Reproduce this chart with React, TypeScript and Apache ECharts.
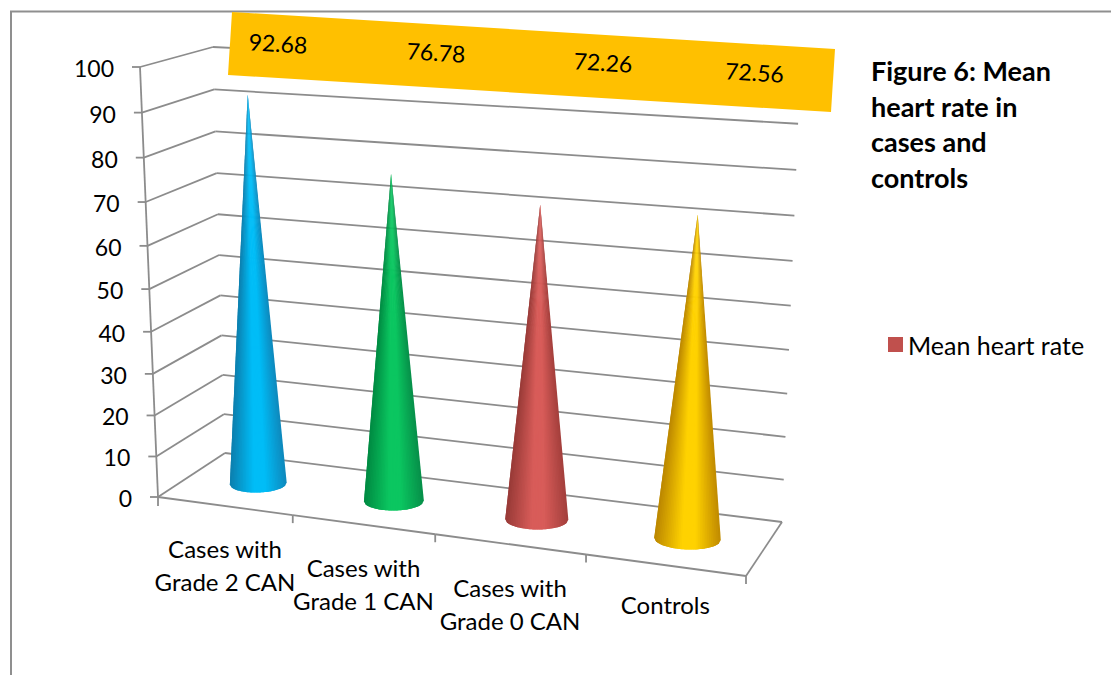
import React, { useEffect, useRef } from "react";
import * as echarts from "echarts";

// Chart values
const categories = ["Cases with\nGrade 2 CAN", "Cases with\nGrade 1 CAN", "Cases with\nGrade 0 CAN", "Controls"];
const meanHeartRate = [92.68, 76.78, 72.26, 72.56];
const valueTicks = [0, 10, 20, 30, 40, 50, 60, 70, 80, 90, 100];
const seriesName = "Mean heart rate";
const chartTitle = "Figure 6: Mean\nheart rate in\ncases and\ncontrols";

// Cone shading: left edge, highlight, right edge
const coneShades = [
  ["#0f88bc", "#00bdf7", "#0c7fae"],
  ["#078f49", "#0bc660", "#008a42"],
  ["#a33f3c", "#d85c59", "#983a37"],
  ["#c08a00", "#ffd200", "#bb8700"],
];

const FONT = "Lato, Carlito, sans-serif";
const LINE = "#8c8c8c";
const GRID = { left: 100, top: 100, width: 400, height: 400 };

type Pt = [number, number];

// Projective map of the unit square on a quad: (0,0), (1,0), (1,1), (0,1)
function quadMap(p0: Pt, p1: Pt, p2: Pt, p3: Pt) {
  const dx1 = p1[0] - p2[0], dx2 = p3[0] - p2[0], sx = p0[0] - p1[0] + p2[0] - p3[0];
  const dy1 = p1[1] - p2[1], dy2 = p3[1] - p2[1], sy = p0[1] - p1[1] + p2[1] - p3[1];
  const den = dx1 * dy2 - dx2 * dy1;
  const g = (sx * dy2 - dx2 * sy) / den;
  const h = (dx1 * sy - sx * dy1) / den;
  const a = p1[0] - p0[0] + g * p1[0], b = p3[0] - p0[0] + h * p3[0], c = p0[0];
  const d = p1[1] - p0[1] + g * p1[1], e = p3[1] - p0[1] + h * p3[1], f = p0[1];
  return (u: number, v: number): Pt => {
    const w = g * u + h * v + 1;
    return [(a * u + b * v + c) / w, (d * u + e * v + f) / w];
  };
}

// The three vertical planes of the 3D plot box
const frontPlane = quadMap([158, 497], [746, 576], [771, 96], [140, 67]);
const conePlane = quadMap([193, 475], [766, 549], [785.5, 88], [178, 58.5]);
const backPlane = quadMap([225, 453], [782, 522], [800, 77], [213, 47]);

// Pixel position on the hidden cartesian grid to unit plane coordinates
const toUnit = (p: number[]): Pt => [
  (p[0] - GRID.left) / GRID.width,
  (GRID.top + GRID.height - p[1]) / GRID.height,
];

const hexRgb = (h: string) => [1, 3, 5].map((i) => parseInt(h.slice(i, i + 2), 16));
function shadeAt(stops: string[], s: number) {
  const [l, m, r] = stops.map(hexRgb);
  const mix = (x: number[], y: number[], t: number) =>
    `rgb(${x.map((c, i) => Math.round(c + (y[i] - c) * t)).join(",")})`;
  if (s < 0.38) return mix(l, m, s / 0.38);
  if (s < 0.58) return mix(m, m, 0);
  return mix(m, r, (s - 0.58) / 0.42);
}

const line = (a: Pt, b: Pt) => ({
  type: "line",
  shape: { x1: a[0], y1: a[1], x2: b[0], y2: b[1] },
  style: { stroke: LINE, lineWidth: 1.8, fill: "none" },
  silent: true,
});

// Gridlines on the left and back walls, with the value scale
function renderValueGrid(_: any, api: any) {
  const tick = api.value(1);
  const [, v] = toUnit(api.coord([0, tick]));
  const front = frontPlane(0, v);
  const back0 = backPlane(0, v);
  const back1 = backPlane(1, v);
  return {
    type: "group",
    children: [
      line(front, back0),
      line(back0, back1),
      line([front[0] - 8, front[1]], front),
      {
        type: "text",
        x: front[0] - 26,
        y: front[1] + 1,
        style: {
          text: String(tick),
          fontFamily: FONT,
          fontSize: 23,
          fill: "#000",
          align: "right",
          verticalAlign: "middle",
        },
      },
    ],
  };
}

// Floor outline, category ticks and category labels
function renderFloor(params: any, api: any) {
  const i = params.dataIndex;
  const band = 1 / categories.length;
  const [uMid] = toUnit(api.coord([i, 0]));
  const edgeMid = frontPlane(uMid, 0);
  const tickEnd = frontPlane(uMid + band / 2, 0);
  const children: any[] = [
    line(frontPlane(uMid - band / 2, 0), tickEnd),
    line(tickEnd, [tickEnd[0], tickEnd[1] + 8]),
  ];
  if (i === 0) {
    const start = frontPlane(0, 0);
    children.push(line(start, [start[0], start[1] + 9]));
    children.push(line(start, frontPlane(0, 1)));
    children.push(line(frontPlane(1, 0), backPlane(1, 0)));
  }
  const text = categories[i];
  const lift = text.includes("\n") ? 26.5 : 23;
  children.push({
    type: "text",
    x: edgeMid[0] + 0.5,
    y: edgeMid[1] + lift,
    style: {
      text,
      fontFamily: FONT,
      fontSize: 24,
      lineHeight: 33,
      fill: "#000",
      align: "center",
      verticalAlign: "top",
    },
  });
  return { type: "group", children };
}

// One cone: a fan of overlapping slices from the apex round the front of its base
function renderCone(params: any, api: any) {
  const i = params.dataIndex;
  const band = 1 / categories.length;
  const base = toUnit(api.coord([i, 0]));
  const top = toUnit(api.coord([i, api.value(1)]));
  const c = conePlane(base[0], 0);
  const apex = conePlane(top[0], top[1]);
  const span = conePlane(base[0] + band / 2, 0)[0] - conePlane(base[0] - band / 2, 0)[0];
  const rx = span * 0.215;
  const ry = rx * 0.32;
  const tilt = ((i - 1.5) * 1.3 * Math.PI) / 180;
  const rim = (s: number): number[] => {
    const t = Math.acos(2 * s - 1);
    const ex = rx * Math.cos(t) * -1;
    const ey = ry * Math.sin(t);
    return [c[0] + ex * Math.cos(tilt) - ey * Math.sin(tilt), c[1] + ex * Math.sin(tilt) + ey * Math.cos(tilt)];
  };
  const slices = 36;
  const children: any[] = [];
  for (let k = 0; k < slices; k++) {
    const points = [apex as number[]];
    for (let j = k; j <= Math.min(k + 2, slices); j++) points.push(rim(j / slices));
    children.push({
      type: "polygon",
      shape: { points },
      style: { fill: shadeAt(coneShades[i], (k + 0.5) / slices), stroke: "none" },
    });
  }
  return { type: "group", children };
}

// Orange band across the top with the value of each cone
const bandCorners = [[232, 12], [835, 49], [831, 112], [228, 75]];
const bandTextX = [278, 436, 603, 754.5];
const bandTextY = [43, 52, 62, 72];
function renderValueBand(params: any, api: any) {
  const i = params.dataIndex;
  const children: any[] = [];
  if (i === 0) {
    children.push({
      type: "polygon",
      shape: { points: bandCorners },
      style: { fill: "#ffc000", stroke: "none" },
    });
  }
  children.push({
    type: "text",
    x: bandTextX[i],
    y: bandTextY[i],
    rotation: -0.061,
    style: {
      text: api.value(1).toFixed(2),
      fontFamily: FONT,
      fontSize: 23,
      fill: "#000",
      align: "center",
      verticalAlign: "middle",
    },
  });
  return { type: "group", children };
}

export default function App() {
  const ref = useRef<HTMLDivElement>(null);

  useEffect(() => {
    const chart = echarts.init(ref.current!, undefined, { renderer: "svg" });
    const perCategory = meanHeartRate.map((v, i) => [i, v]);
    chart.setOption({
      animation: false,
      backgroundColor: "#fff",
      grid: GRID,
      xAxis: { type: "category", data: categories, show: false },
      yAxis: { type: "value", min: 0, max: 100, interval: 10, show: false },
      title: {
        text: chartTitle,
        left: 866,
        top: 48,
        textStyle: { fontFamily: FONT, fontSize: 27, fontWeight: "bold", color: "#000", lineHeight: 35.5 },
      },
      legend: {
        data: [seriesName],
        left: 883,
        top: 327,
        icon: "rect",
        itemWidth: 15,
        itemHeight: 15,
        itemGap: 0,
        textStyle: { fontFamily: FONT, fontSize: 25, color: "#000" },
        selectedMode: false,
      },
      graphic: [
        {
          type: "polyline",
          shape: { points: [[11, 675], [11, 11.5], [1111, 11.5]] },
          style: { stroke: "#8f8f8f", lineWidth: 2, fill: "none" },
          silent: true,
        },
      ],
      series: [
        {
          type: "custom",
          name: "grid",
          z: 1,
          silent: true,
          renderItem: renderValueGrid,
          data: valueTicks.map((t) => [0, t]),
        },
        {
          type: "custom",
          name: "floor",
          z: 2,
          silent: true,
          renderItem: renderFloor,
          data: perCategory,
        },
        {
          type: "custom",
          name: seriesName,
          z: 3,
          silent: true,
          itemStyle: { color: "#c0504d" },
          renderItem: renderCone,
          data: perCategory,
        },
        {
          type: "custom",
          name: "values",
          z: 4,
          silent: true,
          renderItem: renderValueBand,
          data: perCategory,
        },
      ],
    });
    return () => chart.dispose();
  }, []);

  return (
    <div
      ref={ref}
      style={{ position: "fixed", left: 0, top: 0, width: 1111, height: 675 }}
    />
  );
}
